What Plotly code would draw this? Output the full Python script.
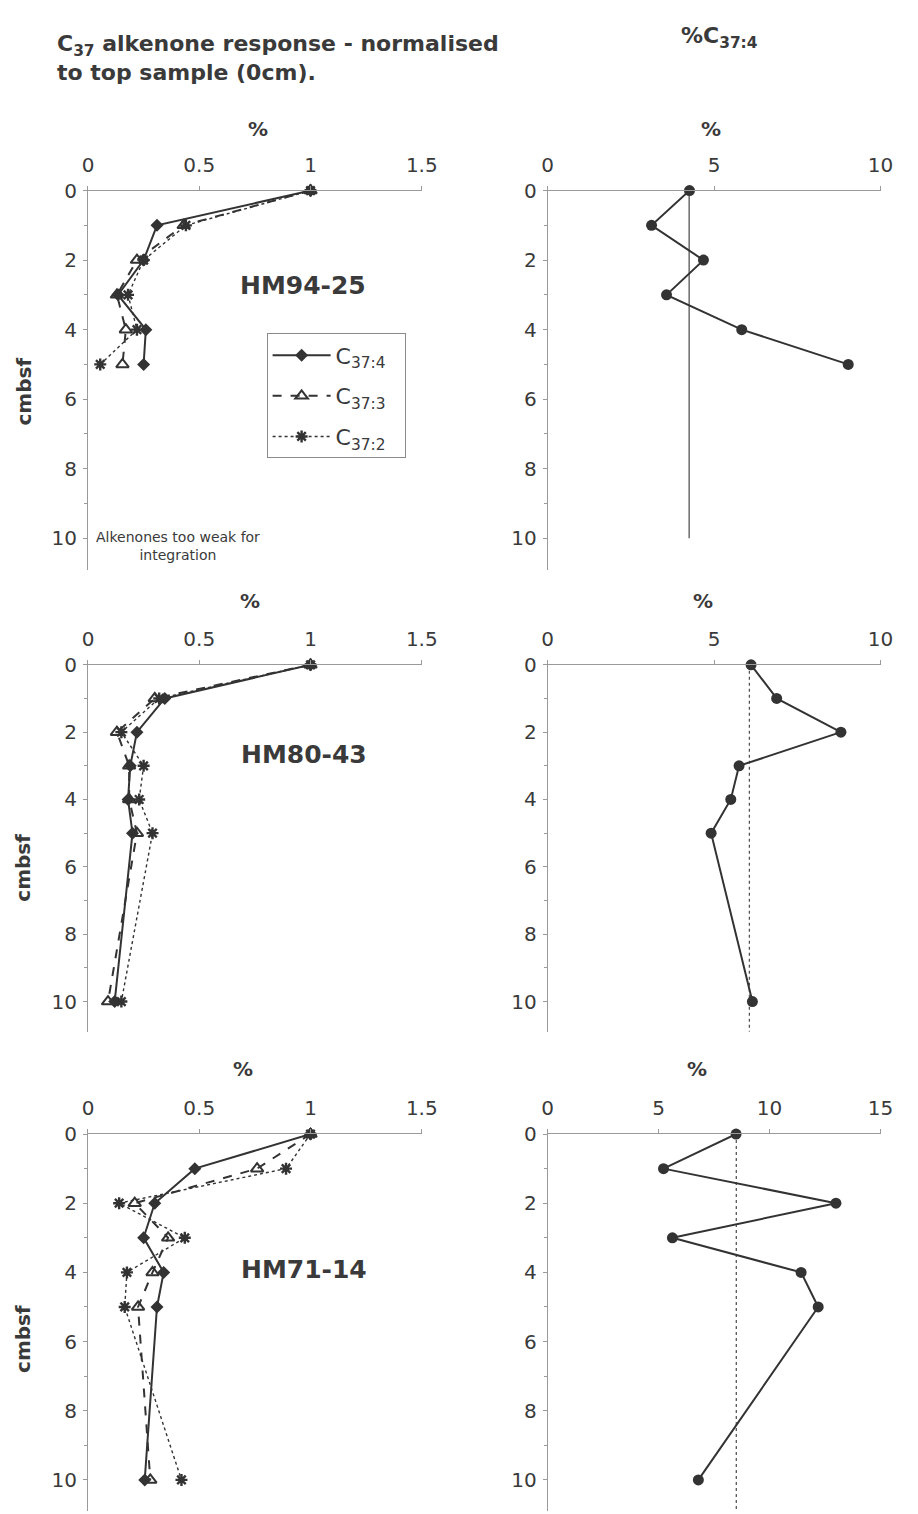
import plotly.graph_objects as go

# ---------------- data ----------------
depth_hm94 = [0, 1, 2, 3, 4, 5]
depth_hm80 = [0, 1, 2, 3, 4, 5, 10]
depth_hm71 = [0, 1, 2, 3, 4, 5, 10]

hm94_c374 = [1.0, 0.31, 0.25, 0.135, 0.26, 0.25]
hm94_c373 = [1.0, 0.43, 0.22, 0.13, 0.17, 0.155]
hm94_c372 = [1.0, 0.44, 0.25, 0.18, 0.22, 0.055]
hm94_pct374 = [4.26, 3.12, 4.68, 3.57, 5.83, 9.03]

hm80_c374 = [1.0, 0.345, 0.22, 0.19, 0.18, 0.20, 0.12]
hm80_c373 = [1.0, 0.30, 0.13, 0.185, 0.185, 0.22, 0.09]
hm80_c372 = [1.0, 0.32, 0.15, 0.25, 0.23, 0.29, 0.15]
hm80_pct374 = [6.11, 6.88, 8.81, 5.75, 5.50, 4.91, 6.15]

hm71_c374 = [1.0, 0.48, 0.30, 0.25, 0.34, 0.31, 0.255]
hm71_c373 = [1.0, 0.76, 0.21, 0.36, 0.29, 0.225, 0.28]
hm71_c372 = [1.0, 0.89, 0.14, 0.435, 0.175, 0.165, 0.42]
hm71_pct374 = [8.49, 5.22, 12.99, 5.62, 11.42, 12.19, 6.79]

# reference (top-sample) lines on the %C37:4 panels
ref_hm94 = [4.25, 4.25]
ref_hm94_depth = [0, 10]
ref_hm80 = [6.06, 6.06]
ref_hm80_depth = [0, 10.9]
ref_hm71 = [8.5, 8.5]
ref_hm71_depth = [0, 10.9]

core_names = ["HM94-25", "HM80-43", "HM71-14"]
series_names = ["C<sub>37:4</sub>\u00a0\u00a0", "C<sub>37:3</sub>\u00a0\u00a0", "C<sub>37:2</sub>\u00a0\u00a0"]
left_ticks = [0, 0.5, 1, 1.5]
left_ticktext = ["0", "0.5", "1", "1.5"]
right_ranges = [[0, 10], [0, 10], [0, 15]]

# ---------------- layout helpers ----------------
W, H = 918, 1514
FONT = "DejaVu Sans"
DARK = "#333333"
AX = "#9a9a9a"
TXT = "#3a3a3a"


def fx(px):
    return px / W


def fy(py):
    return 1 - py / H


rows_px = [(180, 562), (658, 1028), (1131, 1511)]
left_px = (84, 426)
right_px = (555, 896)

fig = go.Figure()

left_data = [
    (depth_hm94, hm94_c374, hm94_c373, hm94_c372),
    (depth_hm80, hm80_c374, hm80_c373, hm80_c372),
    (depth_hm71, hm71_c374, hm71_c373, hm71_c372),
]
right_data = [
    (depth_hm94, hm94_pct374, ref_hm94, ref_hm94_depth, "solid"),
    (depth_hm80, hm80_pct374, ref_hm80, ref_hm80_depth, "dot"),
    (depth_hm71, hm71_pct374, ref_hm71, ref_hm71_depth, "dot"),
]

for r in range(3):
    xl = "x" if r == 0 else f"x{2 * r + 1}"
    yl = "y" if r == 0 else f"y{2 * r + 1}"
    xr = f"x{2 * r + 2}"
    yr = f"y{2 * r + 2}"
    d, s4, s3, s2 = left_data[r]
    show = r == 0
    fig.add_trace(go.Scatter(
        x=s4, y=d, xaxis=xl, yaxis=yl, mode="lines+markers",
        name=series_names[0], legendgroup="a", showlegend=show, cliponaxis=False,
        line=dict(color=DARK, width=2, dash="solid"),
        marker=dict(symbol="diamond", size=10, color=DARK)))
    fig.add_trace(go.Scatter(
        x=s3, y=d, xaxis=xl, yaxis=yl, mode="lines+markers",
        name=series_names[1], legendgroup="b", showlegend=show, cliponaxis=False,
        line=dict(color=DARK, width=2, dash="dash"),
        marker=dict(symbol="triangle-up-open", size=11, color=DARK,
                    line=dict(width=2, color=DARK))))
    fig.add_trace(go.Scatter(
        x=s2, y=d, xaxis=xl, yaxis=yl, mode="lines+markers",
        name=series_names[2], legendgroup="c", showlegend=show, cliponaxis=False,
        line=dict(color=DARK, width=1.4, dash="dot"),
        marker=dict(symbol="asterisk-open", size=10, color=DARK,
                    line=dict(width=2.4, color=DARK))))

    dr, pct, ref, refd, rdash = right_data[r]
    fig.add_trace(go.Scatter(
        x=ref, y=refd, xaxis=xr, yaxis=yr, mode="lines", showlegend=False,
        line=dict(color="#555555", width=1.3, dash=rdash)))
    fig.add_trace(go.Scatter(
        x=pct, y=dr, xaxis=xr, yaxis=yr, mode="lines+markers", showlegend=False,
        cliponaxis=False,
        line=dict(color=DARK, width=2),
        marker=dict(symbol="circle", size=11, color=DARK)))

axis_common = dict(
    showgrid=False, zeroline=False, showline=True, linecolor=AX, linewidth=1,
    ticks="outside", ticklen=4, tickcolor=AX,
    tickfont=dict(family=FONT, size=20, color=TXT),
)

layout = dict(
    width=W, height=H, margin=dict(l=0, r=0, t=0, b=0),
    paper_bgcolor="white", plot_bgcolor="white",
    font=dict(family=FONT, color=TXT),
    showlegend=True,
    legend=dict(x=fx(267), y=fy(324), xanchor="left", yanchor="top",
                bordercolor="#8a8a8a", borderwidth=1, bgcolor="white",
                font=dict(family=FONT, size=22, color=TXT),
                tracegroupgap=9, itemwidth=58),
)

for r in range(3):
    top, bot = rows_px[r]
    dom_y = [fy(bot), fy(top)]
    for c in range(2):
        idx = 2 * r + c + 1
        xk = "xaxis" if idx == 1 else f"xaxis{idx}"
        yk = "yaxis" if idx == 1 else f"yaxis{idx}"
        xa = "x" if idx == 1 else f"x{idx}"
        ya = "y" if idx == 1 else f"y{idx}"
        dx = left_px if c == 0 else right_px
        xax = dict(axis_common, domain=[fx(dx[0]), fx(dx[1])], anchor=ya,
                   side="top", ticklabelstandoff=6)
        if c == 0:
            xax.update(range=[0, 1.5], tickvals=left_ticks, ticktext=left_ticktext)
        else:
            xax.update(range=right_ranges[r], dtick=5, tick0=0)
        yax = dict(axis_common, domain=dom_y, anchor=xa, range=[10.9, 0],
                   tickvals=[0, 2, 4, 6, 8, 10], ticklabelstandoff=2,
                   minor=dict(tickvals=[1, 3, 5, 7, 9], ticks="outside",
                              ticklen=3, tickcolor=AX))
        layout[xk] = xax
        layout[yk] = yax

fig.update_layout(**layout)

ann = []
# main titles
ann.append(dict(text="<b>C<sub>37</sub> alkenone response - normalised<br>to top sample (0cm).</b>",
                x=fx(50), y=fy(17), xanchor="left", yanchor="top", align="left",
                font=dict(family=FONT, size=22, color=TXT), showarrow=False,
                xref="paper", yref="paper"))
ann.append(dict(text="<b>%C<sub>37:4</sub></b>", x=fx(730), y=fy(26),
                xanchor="center", yanchor="middle",
                font=dict(family=FONT, size=22, color=TXT), showarrow=False,
                xref="paper", yref="paper"))
pct_pos = [((258, 118), (722, 118)), ((250, 594), (714, 594)), ((243, 1065), (708, 1065))]
cmbsf_y = [383, 863, 1338]
label_pos = [(304, 276), (305, 748), (305, 1268)]
for r in range(3):
    for (px_, py_) in pct_pos[r]:
        ann.append(dict(text="<b>%</b>", x=fx(px_), y=fy(py_), xanchor="center",
                        yanchor="middle", font=dict(family=FONT, size=20, color=TXT),
                        showarrow=False, xref="paper", yref="paper"))
    ann.append(dict(text="<b>cmbsf</b>", x=fx(18), y=fy(cmbsf_y[r]), xanchor="center",
                    yanchor="middle", textangle=-90,
                    font=dict(family=FONT, size=20, color=TXT),
                    showarrow=False, xref="paper", yref="paper"))
    ann.append(dict(text="<b>" + core_names[r] + "</b>", x=fx(label_pos[r][0]),
                    y=fy(label_pos[r][1]), xanchor="center", yanchor="middle",
                    font=dict(family=FONT, size=25, color=TXT),
                    showarrow=False, xref="paper", yref="paper"))
ann.append(dict(text="Alkenones too weak for<br>integration", x=fx(176), y=fy(538),
                xanchor="center", yanchor="middle", align="center",
                font=dict(family=FONT, size=14, color=TXT),
                showarrow=False, xref="paper", yref="paper"))
fig.update_layout(annotations=ann)

fig.write_html("out.html", config={"displayModeBar": False},
               post_script="document.body.style.margin='0';")
